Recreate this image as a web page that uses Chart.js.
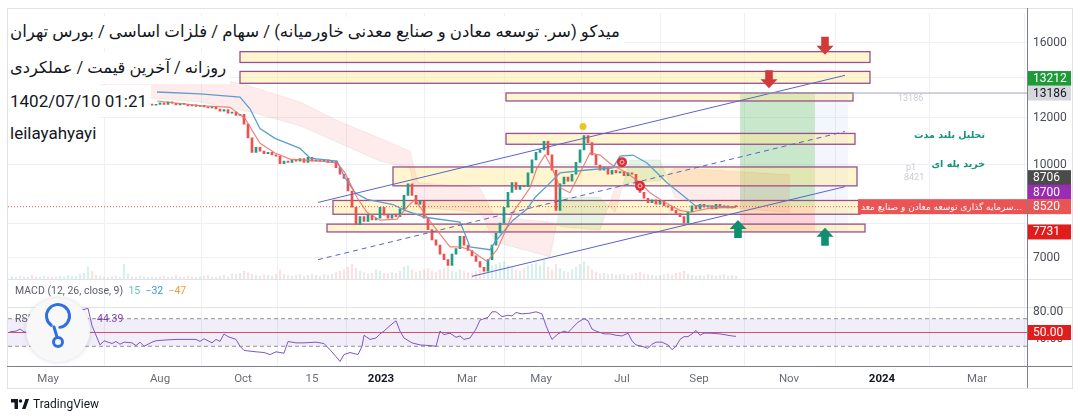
<!DOCTYPE html>
<html>
<head>
<meta charset="utf-8">
<title>MIDKO daily</title>
<script src="https://cdn.jsdelivr.net/npm/chart.js@4.4.1/dist/chart.umd.min.js"></script>
<style>
  html, body { margin: 0; padding: 0; background: #fff; }
  #wrap { position: relative; width: 1080px; height: 420px; overflow: hidden; }
  #priceChart { position: absolute; left: 0; top: 0; }
  .note { position: absolute; left: 8px; background: #fff; color: #131722; font-family: Roboto, "DejaVu Sans", sans-serif; font-size: 17px; height: 32px; line-height: 32px; padding: 0 4px 0 2px; white-space: nowrap; }
  #tv { position: absolute; left: 11px; top: 397px; font-family: Roboto, sans-serif; font-size: 12px; color: #131722; display: flex; align-items: center; gap: 4px; }
</style>
</head>
<body>
<div id="wrap">
  <canvas id="priceChart" width="1080" height="420"></canvas>
  <div class="note" dir="rtl" style="top:16px;font-size:16.6px">میدکو (سر. توسعه معادن و صنایع معدنی خاورمیانه) / سهام / فلزات اساسی / بورس تهران</div>
  <div class="note" dir="rtl" style="top:52px;font-size:16.3px">روزانه / آخرین قیمت / عملکردی</div>
  <div class="note" style="top:85px">1402/07/10 01:21</div>
  <div class="note" style="top:117px">leilayahyayi</div>
  <div id="tv"><svg width="18" height="10" viewBox="0 0 36 20"><path d="M0 0h14v20H7V7H0z M22 20 L29 0 H36 L29 20z" fill="#131722"/><circle cx="19" cy="4" r="3.5" fill="#131722"/></svg><span>TradingView</span></div>
</div>
<script>
// candle closes, oldest first (one candle per ~2 sessions)
var closes = [
    12600, 12650, 12580, 12620, 12700, 12650, 12600, 12680, 12720, 12650,
    12600, 12560, 12620, 12680, 12750, 12800, 12850, 12900, 12950, 13000,
    12800, 12650, 12550, 12500, 12560, 12520, 12580, 12540, 12600, 12650,
    12580, 12620, 12560, 12600, 12640, 12580, 12620,
    12700, 12620, 12750, 12680, 12600, 12680, 12620, 12550, 12600, 12520,
    12580, 12500, 12450, 12520, 12400, 12300, 12380, 12200, 12250, 12100, 12150,
    11700, 11100, 10500, 10700, 10550, 10450, 10500, 10400, 10350, 10050,
    10150, 10100, 10200, 10150, 10250, 10100, 10300, 10150, 10200, 10150,
    10200, 10100, 10150,
    9900, 9650, 9500, 9050, 8500, 7950, 8200, 8050, 8250, 8100,
    8150, 8500, 8250, 8150, 8250, 8200, 8450, 8900, 9300, 8900,
    8600, 8700, 8150, 7800, 7500, 7350, 7100, 6950, 6800, 7100,
    7250, 7600, 7350, 7200, 7050, 6900, 6750, 6650, 6950, 7350,
    7700, 8000, 8500, 9000, 9350, 9100, 9250, 9200, 9700, 10200,
    10500, 10600, 10950, 10400, 9800, 8400, 9300, 9550, 9400, 9650,
    10100, 10600, 11200, 10900, 10400, 10000, 9800, 9900, 9650, 9800,
    9700, 9750, 9600, 9700, 9650, 9300, 9000, 8800, 8650, 8750,
    8600, 8700, 8550, 8500, 8400, 8300, 8200, 8000, 8350, 8550,
    8450, 8600, 8500, 8550, 8450, 8600, 8500, 8550, 8480, 8530,
    8520
];
// volume, millions of shares
var volumes = [
    4, 3, 5, 4, 3, 6, 4, 3, 5, 4, 3, 4, 5, 4, 6, 5, 4, 7, 9, 18,
    12, 6, 5, 4, 3, 4, 5, 3, 22, 8, 4, 3, 5, 4, 3, 4, 3,
    4, 5, 3, 4, 6, 4, 3, 5, 4, 3, 4, 5, 6, 4, 3, 5, 6, 4, 8, 7, 9,
    12, 10, 8, 6, 5, 7, 6, 5, 8, 14, 7, 6, 5, 6, 7, 5, 6, 8, 6, 5, 7, 6, 8,
    10, 12, 14, 18, 22, 16, 12, 10, 8, 9,
    14, 12, 9, 8, 10, 9, 12, 18, 20, 14,
    10, 12, 14, 16, 12, 10, 14, 16, 18, 12,
    10, 14, 12, 10, 9, 12, 14, 16, 18, 20,
    22, 24, 26, 20, 18, 14, 12, 16, 20, 22,
    24, 20, 28, 18, 14, 22, 16, 12, 10, 14,
    18, 22, 26, 20, 14, 10, 8, 9, 7, 8,
    6, 7, 8, 6, 7, 9, 10, 8, 7, 6,
    5, 6, 7, 8, 6, 9, 10, 12, 8, 6,
    5, 6, 5, 7, 6, 5, 6, 7, 5, 6,
    5
];

// ichimoku lines as [candle index, price]
var conversionLine = [[36.25, 12790], [47, 12560], [54.5, 12480], [58.25, 11960], [62, 10870], [65.75, 10470], [69.5, 10230], [77, 10150], [81.25, 10080], [83.25, 9700], [86.25, 8825], [88.75, 8340], [92, 8090], [96.25, 8120], [98.75, 8500], [100.75, 8760], [103.75, 8180], [107, 7670], [109.5, 7300], [112, 7300], [114.5, 7220], [117, 7030], [118.75, 6900], [121.25, 7220], [123.25, 7730], [125.25, 8340], [127, 8660], [129.5, 9165], [131.25, 9890], [133.25, 10390], [135, 9890], [137, 9165], [139.5, 8990], [142, 9700], [144.5, 10470], [147, 10390], [150, 10000], [153.75, 9700], [157, 9340], [159.5, 8990], [163.25, 8660], [167, 8400], [169.5, 8340], [174.5, 8470], [181, 8500]];
var baseLine = [[36.25, 13240], [47, 13140], [57, 12980], [59.5, 12410], [62, 11500], [65.75, 11080], [72, 10660], [74.5, 10270], [81.25, 10150], [83.25, 9520], [85.75, 8990], [88.75, 8760], [95.25, 8590], [98.25, 8400], [103.25, 8180], [112, 8030], [113.25, 7670], [114.5, 7300], [119.5, 7220], [120.75, 7440], [123.25, 7790], [125.25, 8090], [128.75, 8440], [130.75, 8825], [133.75, 9230], [137, 9700], [143.75, 9810], [150.25, 9890], [152, 10350], [155.25, 10390], [158.75, 10080], [163.75, 9340], [167.75, 8890], [170.75, 8560], [181, 8500]];
var cloudIdx = [22, 47, 59.5, 72, 82, 92, 99.5, 101.5, 117, 120.75, 134.5, 137.5, 147, 150.75, 154.5, 162, 165.75, 177, 194.5];
var leadA = [13140, 12740, 12270, 11630, 10870, 10150, 9890, 8500, 8340, 7440, 7030, 8825, 8825, 8340, 10190, 10190, 8825, 8500, 8340];
var leadB = [13750, 14170, 13540, 12740, 11810, 11080, 10540, 9340, 9165, 8180, 8030, 7880, 7790, 9165, 9340, 9410, 9890, 9790, 9630];

// RSI(14) as [candle index, value]
var rsiPoints = [[-0.5, 51], [1, 52], [2, 55], [3, 51], [4, 50], [6, 55], [10, 60], [13, 70], [17, 82], [19, 85], [20, 60], [22, 32], [23, 38], [25, 34], [26, 37], [27, 33], [28, 36], [30, 35], [31, 31], [32, 36], [33, 30], [35, 36], [36, 38], [38, 39], [41, 40], [43, 40], [46, 40], [47, 37], [48, 41], [50, 35], [51, 40], [52, 37], [53, 48], [54, 44], [56, 40], [57, 30], [58, 24], [61, 22], [63, 21], [64.5, 18], [66, 22], [68, 20], [69, 37], [71, 35], [73, 35], [76, 36], [78, 34], [79.5, 25], [81, 15], [82, 8], [83, 18], [84.5, 21], [86.5, 18], [87.5, 30], [88, 46], [89.5, 40], [91, 42], [92, 48], [93, 52], [94.5, 60], [96, 67], [97, 52], [98, 42], [100, 35], [102, 32], [104.5, 31], [106, 30], [107, 52], [108, 47], [109.5, 49], [111, 43], [112, 45], [113, 40], [114.5, 42], [116, 55], [117, 68], [119, 72], [120, 80], [121, 80], [122.5, 73], [124, 75], [125, 74], [126, 79], [127.5, 77], [129.5, 78], [131, 80], [132.5, 77], [133.5, 60], [134.5, 46], [135, 40], [136.5, 48], [138, 52], [139, 50], [140, 56], [141.5, 65], [143, 70], [144, 67], [145, 55], [146, 52], [148, 48], [149.5, 48], [151, 46], [152.5, 45], [154, 49], [155, 38], [156, 32], [157.5, 30], [159, 27], [160, 33], [161, 36], [162.5, 36], [164, 32], [165, 25], [166, 30], [167, 40], [168, 44], [169, 44], [170, 48], [171, 53], [172, 46], [173, 49], [174.5, 49], [177, 48], [179, 46], [180, 45], [181, 44.39]];

// axis ticks
var timeTicks = [9, 37, 57.75, 75, 92.25, 113.75, 132.25, 152.5, 171.75, 194.25, 217.5, 241.25];
var timeLabels = ['May', 'Aug', 'Oct', '15', '2023', 'Mar', 'May', 'Jul', 'Sep', 'Nov', '2024', 'Mar'];
var priceGrid = [7000, 8000, 10000, 12000, 14000, 16000];
var priceShown = [7000, 10000, 12000, 16000];

// drawings: channel, zones, position, marks
var channelUpper = [[76.5, 8660], [208.25, 14115]];
var channelLower = [[115, 6518], [208.25, 9201]];
var channelMid = [[76.5, 6950], [208.25, 11374]];
var zoneFrom = [57, 57, 123.5, 123.5, 95.25, 80.25, 78.75];
var zoneTo = [214.5, 214.5, 210.25, 210.75, 211.25, 212, 213.25];
var zoneHigh = [15460, 14330, 13190, 11290, 9925, 8725, 7967];
var zoneLow = [14830, 13690, 12790, 10830, 9230, 8275, 7731];
var positionFrom = 182, positionTo = 200.75;
var target = 13186, entry = 8520, stop = 7731;
var downArrows = [[203.25, 15810], [189.25, 13900]];
var upArrows = [[181.5, 7820], [203.25, 7590]];
var peakDot = [142.75, 11590];
var signalDots = [[152.5, 10110], [157, 9230]];

var UP = '#1f9e86', DOWN = '#ef4f4f';
var pts = function(arr) { return arr.map(function(p) { return {x: p[0], y: p[1]}; }); };
var candleData = closes.map(function(c, i) { return {x: i, y: [i > 0 ? closes[i - 1] : c, c]}; });
var candleColors = candleData.map(function(d) { return d.y[1] >= d.y[0] ? UP : DOWN; });
var volData = volumes.map(function(v, i) { return {x: i, y: v}; });
var volColors = candleColors.map(function(c) { return c === UP ? 'rgba(31,158,134,0.17)' : 'rgba(239,79,79,0.17)'; });

function arrow(ctx, x, y, down, color) {
    var h = 18, hw = 8.5, sw = 3.8, hh = 9, d = down ? 1 : -1;
    var base = y - d * h / 2, tip = y + d * h / 2;
    ctx.fillStyle = color;
    ctx.beginPath();
    ctx.moveTo(x - sw, base); ctx.lineTo(x + sw, base);
    ctx.lineTo(x + sw, tip - d * hh); ctx.lineTo(x + hw, tip - d * hh);
    ctx.lineTo(x, tip); ctx.lineTo(x - hw, tip - d * hh);
    ctx.lineTo(x - sw, tip - d * hh);
    ctx.closePath(); ctx.fill();
}

function tag(ctx, y, text, bg, fg) {
    ctx.fillStyle = bg;
    ctx.fillRect(1028, y - 7.5, 43, 15);
    ctx.fillStyle = fg;
    ctx.font = '12px Roboto';
    ctx.textAlign = 'left'; ctx.textBaseline = 'middle';
    ctx.fillText(text, 1033, y + 0.5);
}

var drawings = {
    id: 'drawings',
    beforeDatasetsDraw: function(chart) {
        var ctx = chart.ctx, a = chart.chartArea, s = chart.scales;
        var X = function(v) { return s.x.getPixelForValue(v); };
        var P = function(v) { return s.y.getPixelForValue(v); };
        var R = function(v) { return s.yr.getPixelForValue(v); };
        ctx.save();
        // rsi band
        ctx.fillStyle = 'rgba(126,87,194,0.1)';
        ctx.fillRect(a.left, R(70), a.right - a.left, R(30) - R(70));
        ctx.strokeStyle = '#8f929b'; ctx.lineWidth = 1; ctx.setLineDash([4, 3]);
        [70, 30].forEach(function(v) { ctx.beginPath(); ctx.moveTo(a.left, R(v)); ctx.lineTo(a.right, R(v)); ctx.stroke(); });
        ctx.setLineDash([]);
        ctx.strokeStyle = 'rgba(200,40,70,0.8)';
        ctx.beginPath(); ctx.moveTo(a.left, R(50)); ctx.lineTo(a.right, R(50)); ctx.stroke();
        // long position tool
        ctx.fillStyle = 'rgba(76,175,80,0.3)';
        ctx.fillRect(X(positionFrom), P(target), X(positionTo) - X(positionFrom), P(entry) - P(target));
        ctx.fillStyle = 'rgba(242,54,69,0.22)';
        ctx.fillRect(X(positionFrom), P(entry), X(positionTo) - X(positionFrom), P(stop) - P(entry));
        ctx.fillStyle = 'rgba(90,130,230,0.07)';
        ctx.fillRect(X(positionTo), P(target), X(209) - X(positionTo), P(stop) - P(target));
        // zones
        ctx.lineWidth = 1.3;
        zoneFrom.forEach(function(f, k) {
            var x0 = X(f), x1 = X(zoneTo[k]), y0 = P(zoneHigh[k]), y1 = P(zoneLow[k]);
            ctx.fillStyle = 'rgba(255,232,140,0.42)';
            ctx.fillRect(x0, y0, x1 - x0, y1 - y0);
            ctx.strokeStyle = '#98508f';
            ctx.strokeRect(x0, y0, x1 - x0, y1 - y0);
        });
        ctx.restore();
    },
    afterDatasetsDraw: function(chart) {
        var ctx = chart.ctx, a = chart.chartArea, s = chart.scales;
        var X = function(v) { return s.x.getPixelForValue(v); };
        var P = function(v) { return s.y.getPixelForValue(v); };
        ctx.save();
        // last price dotted line
        ctx.strokeStyle = '#ef5350'; ctx.lineWidth = 1; ctx.setLineDash([1, 2]);
        ctx.beginPath(); ctx.moveTo(a.left, P(entry)); ctx.lineTo(a.right, P(entry)); ctx.stroke();
        ctx.setLineDash([]);
        ctx.strokeStyle = '#a3a6af';
        ctx.beginPath(); ctx.moveTo(X(positionFrom), P(target)); ctx.lineTo(a.right, P(target)); ctx.stroke();
        downArrows.forEach(function(p) { arrow(ctx, X(p[0]), P(p[1]), true, '#d23a3a'); });
        upArrows.forEach(function(p) { arrow(ctx, X(p[0]), P(p[1]), false, '#0f8f70'); });
        ctx.fillStyle = '#ecc520';
        ctx.beginPath(); ctx.arc(X(peakDot[0]), P(peakDot[1]), 3.5, 0, Math.PI * 2); ctx.fill();
        signalDots.forEach(function(p) {
            ctx.fillStyle = '#d93035';
            ctx.beginPath(); ctx.arc(X(p[0]), P(p[1]), 5, 0, Math.PI * 2); ctx.fill();
            ctx.strokeStyle = 'rgba(255,255,255,0.7)'; ctx.lineWidth = 1;
            ctx.beginPath(); ctx.arc(X(p[0]), P(p[1]), 2, 0, Math.PI * 2); ctx.stroke();
        });
        // notes
        ctx.direction = 'rtl';
        ctx.textAlign = 'right'; ctx.textBaseline = 'middle';
        ctx.fillStyle = '#15937a'; ctx.font = 'bold 9.5px "DejaVu Sans"';
        ctx.fillText('تحلیل بلند مدت', X(243.25), P(11204));
        ctx.fillText('خرید پله ای', X(243.25), P(10000));
        ctx.direction = 'ltr'; ctx.textAlign = 'left';
        ctx.fillStyle = '#c9ccd3'; ctx.font = '9px Roboto';
        ctx.fillText('13186', X(221.5), P(12880));
        ctx.fillText('p1', X(223.5), P(9890));
        ctx.fillText('8421', X(223), P(9530));
        // symbol line label
        var yl = P(entry), lx = X(211.5);
        ctx.fillStyle = '#ea5454';
        ctx.fillRect(lx, yl - 7.5, a.right - lx, 15);
        ctx.save();
        ctx.beginPath(); ctx.rect(lx + 2, yl - 7.5, a.right - lx - 4, 15); ctx.clip();
        ctx.fillStyle = '#fff'; ctx.font = '9px "DejaVu Sans"';
        ctx.direction = 'rtl'; ctx.textAlign = 'left';
        ctx.fillText('...سرمایه گذاری توسعه معادن و صنایع معد', lx + 3, yl + 0.5);
        ctx.restore();
        ctx.restore();
    },
    afterDraw: function(chart) {
        var ctx = chart.ctx, a = chart.chartArea, s = chart.scales;
        var P = function(v) { return s.y.getPixelForValue(v); };
        var R = function(v) { return s.yr.getPixelForValue(v); };
        ctx.save();
        var mainBottom = Math.round(P(6440)) + 0.5, rsiTop = Math.round(R(87)) + 0.5;
        ctx.strokeStyle = '#e0e3eb'; ctx.lineWidth = 1;
        [mainBottom, rsiTop].forEach(function(y) { ctx.beginPath(); ctx.moveTo(a.left, y); ctx.lineTo(1072, y); ctx.stroke(); });
        ctx.strokeRect(7.5, 8.5, 1065, 380);
        ctx.strokeStyle = '#7d808a';
        ctx.beginPath(); ctx.moveTo(a.right + 0.5, 8); ctx.lineTo(a.right + 0.5, 388); ctx.stroke();
        ctx.beginPath(); ctx.moveTo(7, a.bottom + 0.5); ctx.lineTo(1072, a.bottom + 0.5); ctx.stroke();
        // price tags
        var yT = P(target), yE = P(entry);
        tag(ctx, yT - 14.5, '13212', '#1e9a38', '#fff');
        tag(ctx, yT, '13186', '#d6d8dd', '#131722');
        tag(ctx, yE - 29, '8706', '#4b4b4b', '#fff');
        tag(ctx, yE - 14.5, '8700', '#9a2bb3', '#fff');
        tag(ctx, yE, '8520', '#ea5454', '#fff');
        tag(ctx, P(stop), '7731', '#e01c1c', '#fff');
        // rsi scale
        ctx.font = '12px Roboto'; ctx.fillStyle = '#4a4d57'; ctx.textBaseline = 'middle';
        ctx.fillText('80.00', 1033, R(80));
        ctx.fillText('40.00', 1033, R(40));
        tag(ctx, R(50), '50.00', '#df1f1f', '#fff');
        // pane titles
        ctx.font = '10.5px Roboto'; ctx.textAlign = 'left';
        var x = 15, yM = 291;
        var parts = [['MACD (12, 26, close, 9)  ', '#5d606b'], ['15  ', '#5cc6bb'], ['\u221232  ', '#3f93dd'], ['\u221247', '#f09a3c']];
        parts.forEach(function(p) { ctx.fillStyle = p[1]; ctx.fillText(p[0], x, yM); x += ctx.measureText(p[0]).width; });
        ctx.fillStyle = '#5d606b';
        ctx.fillText('RSI 14 close', 15, 319);
        ctx.fillStyle = '#7e3fa8';
        ctx.fillText('44.39', 97, 319);
        // watermark badge
        ctx.shadowColor = 'rgba(0,0,0,0.15)'; ctx.shadowBlur = 5;
        ctx.fillStyle = '#f8f8f9';
        ctx.beginPath(); ctx.arc(58, 330, 32, 0, Math.PI * 2); ctx.fill();
        ctx.shadowBlur = 0;
        ctx.strokeStyle = '#2f6fe0'; ctx.lineWidth = 3; ctx.lineCap = 'round';
        ctx.beginPath(); ctx.arc(58, 316, 11.5, Math.PI * 0.7, Math.PI * 2.45); ctx.stroke();
        ctx.beginPath(); ctx.moveTo(54, 327); ctx.lineTo(57, 337); ctx.stroke();
        ctx.beginPath(); ctx.arc(58, 342, 4.5, 0, Math.PI * 2); ctx.stroke();
        ctx.restore();
    }
};

var ctx = document.getElementById('priceChart').getContext('2d');
var myChart = new Chart(ctx, {
    type: 'bar',
    data: {
        datasets: [
            { type: 'line', label: 'Upper', data: pts(channelUpper), yAxisID: 'y', borderColor: '#5a63c9', borderWidth: 1, pointRadius: 0, order: 0 },
            { type: 'line', label: 'Lower', data: pts(channelLower), yAxisID: 'y', borderColor: '#5a63c9', borderWidth: 1, pointRadius: 0, order: 0 },
            { type: 'line', label: 'Mid', data: pts(channelMid), yAxisID: 'y', borderColor: '#5a63c9', borderDash: [5, 4], borderWidth: 1, pointRadius: 0, order: 0 },
            { type: 'line', label: 'RSI', data: pts(rsiPoints), yAxisID: 'yr', borderColor: '#7e57c2', borderWidth: 1, pointRadius: 0, order: 0 },
            { type: 'line', label: 'Conversion', data: pts(conversionLine), yAxisID: 'y', borderColor: 'rgba(239,110,100,0.85)', borderWidth: 1.2, pointRadius: 0, order: 1 },
            { type: 'line', label: 'Base', data: pts(baseLine), yAxisID: 'y', borderColor: '#5d9dd0', borderWidth: 1.3, pointRadius: 0, order: 2 },
            { type: 'bar', label: 'Price', data: candleData, yAxisID: 'y', backgroundColor: candleColors, barThickness: 2, minBarLength: 1, grouped: false, order: 3 },
            { type: 'bar', label: 'Volume', data: volData, yAxisID: 'yv', backgroundColor: volColors, barThickness: 1.5, grouped: false, order: 8 },
            { type: 'line', label: 'Lead A', data: cloudIdx.map(function(v, k) { return {x: v, y: leadA[k]}; }), yAxisID: 'y', borderColor: 'rgba(76,175,80,0.12)', borderWidth: 1, pointRadius: 0, order: 9,
              fill: { target: '+1', above: 'rgba(76,175,80,0.14)', below: 'rgba(242,80,90,0.11)' } },
            { type: 'line', label: 'Lead B', data: cloudIdx.map(function(v, k) { return {x: v, y: leadB[k]}; }), yAxisID: 'y', borderColor: 'rgba(242,80,90,0.1)', borderWidth: 1, pointRadius: 0, order: 10 }
        ]
    },
    options: {
        responsive: false,
        animation: false,
        layout: { padding: { left: 8, right: 8, top: 8, bottom: 32 } },
        plugins: { legend: { display: false }, tooltip: { enabled: false } },
        scales: {
            x: {
                type: 'linear', min: -1, max: 253.75, offset: false,
                afterBuildTicks: function(s) { s.ticks = timeTicks.map(function(v) { return {value: v}; }); },
                afterFit: function(s) { s.height = 22; },
                ticks: {
                    autoSkip: false, maxRotation: 0, padding: 6,
                    callback: function(v, i) { return timeLabels[i]; },
                    color: function(c) { return /^20/.test(timeLabels[c.index]) ? '#131722' : '#6a6d78'; },
                    font: function(c) { return { family: 'Roboto', size: 11.5, weight: /^20/.test(timeLabels[c.index]) ? 'bold' : 'normal' }; }
                },
                grid: { color: '#eef0f4', drawTicks: false },
                border: { display: false }
            },
            y: {
                type: 'logarithmic', position: 'right', min: 4618, max: 17923, bounds: 'data',
                afterBuildTicks: function(s) { s.ticks = priceGrid.map(function(v) { return {value: v}; }); },
                afterFit: function(s) { s.width = 45; },
                ticks: {
                    padding: 6, color: '#4a4d57', font: { family: 'Roboto', size: 12 },
                    callback: function(v) { return priceShown.indexOf(v) >= 0 ? String(v) : ''; }
                },
                grid: { color: '#eef0f4', drawTicks: false },
                border: { display: false }
            },
            yr: { type: 'linear', position: 'right', display: false, min: 1.43, max: 512.9 },
            yv: { type: 'linear', position: 'right', display: false, min: -125, max: 385 }
        }
    },
    plugins: [drawings]
});
</script>
</body>
</html>
